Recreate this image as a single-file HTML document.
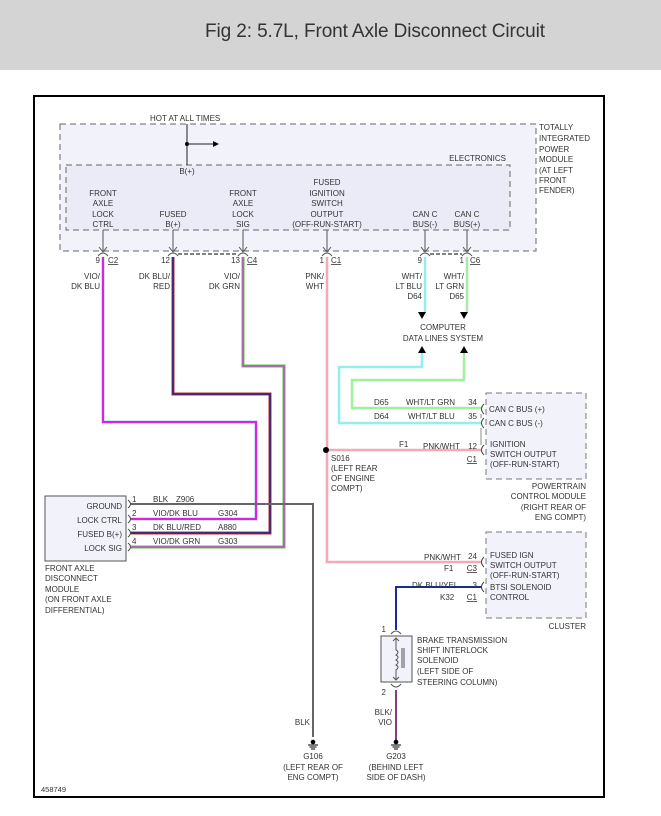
<!DOCTYPE html>
<html><head><meta charset="utf-8"><style>
html,body{margin:0;padding:0;background:#fff;}
svg{display:block;}
text{font-family:"Liberation Sans",sans-serif;font-size:8px;fill:#333;}
.t{font-size:19px;fill:#333;}
</style></head><body>
<svg width="661" height="816" viewBox="0 0 661 816" xmlns="http://www.w3.org/2000/svg">
<rect x="0" y="0" width="661" height="70" fill="#d4d4d4"/>
<text class="t" x="205" y="37" textLength="340">Fig 2: 5.7L, Front Axle Disconnect Circuit</text>
<rect x="34" y="96" width="570" height="701" fill="#fff" stroke="#000" stroke-width="2"/>

<!-- TIPM -->
<rect x="60" y="124" width="476" height="127" fill="#f2f2fb" stroke="#666" stroke-dasharray="6,4"/>
<rect x="66" y="165" width="444" height="65" fill="#ebebf8" stroke="#666" stroke-dasharray="6,4"/>
<text x="150" y="121">HOT AT ALL TIMES</text>
<line x1="187" y1="124" x2="187" y2="165" stroke="#222"/>
<circle cx="187" cy="144" r="2" fill="#000"/>
<line x1="187" y1="144" x2="214" y2="144" stroke="#222"/>
<polygon points="213,141 219,144 213,147" fill="#000"/>
<text x="506" y="161" text-anchor="end">ELECTRONICS</text>
<text x="187" y="174" text-anchor="middle">B(+)</text>
<g text-anchor="start">
<text x="539" y="130">TOTALLY</text><text x="539" y="141">INTEGRATED</text><text x="539" y="152">POWER</text><text x="539" y="162">MODULE</text><text x="539" y="173">(AT LEFT</text><text x="539" y="183">FRONT</text><text x="539" y="193">FENDER)</text>
</g>
<g text-anchor="middle">
<text x="103" y="196">FRONT</text><text x="103" y="206">AXLE</text><text x="103" y="217">LOCK</text><text x="103" y="227">CTRL</text>
<text x="173" y="217">FUSED</text><text x="173" y="227">B(+)</text>
<text x="243" y="196">FRONT</text><text x="243" y="206">AXLE</text><text x="243" y="217">LOCK</text><text x="243" y="227">SIG</text>
<text x="327" y="185">FUSED</text><text x="327" y="196">IGNITION</text><text x="327" y="206">SWITCH</text><text x="327" y="217">OUTPUT</text><text x="327" y="227">(OFF-RUN-START)</text>
<text x="425" y="217">CAN C</text><text x="425" y="227">BUS(-)</text>
<text x="467" y="217">CAN C</text><text x="467" y="227">BUS(+)</text>
</g>
<!-- pin arrows -->
<g stroke="#555" fill="none">
<path d="M103 230V252M99 247L103 252L107 247M98 256Q103 250 108 256"/>
<path d="M173 230V252M169 247L173 252L177 247M168 256Q173 250 178 256"/>
<path d="M243 230V252M239 247L243 252L247 247M238 256Q243 250 248 256"/>
<path d="M327 230V252M323 247L327 252L331 247M322 256Q327 250 332 256"/>
<path d="M425 230V252M421 247L425 252L429 247M420 256Q425 250 430 256"/>
<path d="M467 230V252M463 247L467 252L471 247M462 256Q467 250 472 256"/>
</g>
<line x1="178" y1="254" x2="238" y2="254" stroke="#000" stroke-dasharray="4,2"/>
<line x1="430" y1="254" x2="462" y2="254" stroke="#000" stroke-dasharray="4,2"/>
<g>
<text x="100" y="263" text-anchor="end">9</text><text x="108" y="263" text-decoration="underline">C2</text>
<text x="170" y="263" text-anchor="end">12</text>
<text x="240" y="263" text-anchor="end">13</text><text x="247" y="263" text-decoration="underline">C4</text>
<text x="324" y="263" text-anchor="end">1</text><text x="331" y="263" text-decoration="underline">C1</text>
<text x="422" y="263" text-anchor="end">9</text>
<text x="464" y="263" text-anchor="end">1</text><text x="470" y="263" text-decoration="underline">C6</text>
</g>
<g text-anchor="end">
<text x="100" y="279">VIO/</text><text x="100" y="289">DK BLU</text>
<text x="170" y="279">DK BLU/</text><text x="170" y="289">RED</text>
<text x="240" y="279">VIO/</text><text x="240" y="289">DK GRN</text>
<text x="324" y="279">PNK/</text><text x="324" y="289">WHT</text>
<text x="422" y="279">WHT/</text><text x="422" y="289">LT BLU</text><text x="422" y="299">D64</text>
<text x="464" y="279">WHT/</text><text x="464" y="289">LT GRN</text><text x="464" y="299">D65</text>
</g>

<!-- wires -->
<g fill="none" stroke-width="3">
<path d="M103 257V422H256V519H131" stroke="#a8c8f0"/>
<path d="M103 257V422H256V519H131" stroke="#e020e0" stroke-width="2"/>
<path d="M173 257V394H270V533H131" stroke="#c03040"/>
<path d="M173 257V394H270V533H131" stroke="#1a2a80" stroke-width="1.5"/>
<path d="M243 257V366H284V547H131" stroke="#60c060"/>
<path d="M243 257V366H284V547H131" stroke="#c050c0" stroke-width="1.5"/>
<path d="M131 504H313V737" stroke="#666" stroke-width="2"/>
<path d="M327 257V562H482" stroke="#f6a8b8" stroke-width="2.5"/>
<path d="M327 450H482" stroke="#f6a8b8" stroke-width="2.5"/>
<path d="M425 257V312" stroke="#90f0f0" stroke-width="2.5"/>
<path d="M467 257V312" stroke="#a8e8a8" stroke-width="2.5"/>
<path d="M422 353V367H339V423H482" stroke="#90f0f0" stroke-width="2.5"/>
<path d="M464 353V380H352V408H482" stroke="#a0f0a0" stroke-width="2.5"/>
<path d="M482 587H396V630" stroke="#1a2a90" stroke-width="2"/>
<path d="M396 690V740" stroke="#804080" stroke-width="2"/>
</g>
<circle cx="326" cy="450" r="3" fill="#000"/>
<polygon points="418,312 426,312 422,319" fill="#000"/>
<polygon points="460,312 468,312 464,319" fill="#000"/>
<polygon points="418,353 426,353 422,346" fill="#000"/>
<polygon points="460,353 468,353 464,346" fill="#000"/>
<text x="443" y="330" text-anchor="middle">COMPUTER</text>
<text x="443" y="341" text-anchor="middle">DATA LINES SYSTEM</text>

<!-- front axle module -->
<rect x="45" y="496" width="81" height="65" fill="#f2f2fb" stroke="#555"/>
<g text-anchor="end">
<text x="122" y="509">GROUND</text><text x="122" y="523">LOCK CTRL</text><text x="122" y="537">FUSED B(+)</text><text x="122" y="551">LOCK SIG</text>
</g>
<g stroke="#444" fill="none">
<path d="M128 500Q133 504 128 508M128 515Q133 519 128 523M128 529Q133 533 128 537M128 543Q133 547 128 551"/>
</g>
<text x="132" y="502">1</text><text x="132" y="516">2</text><text x="132" y="530">3</text><text x="132" y="544">4</text>
<text x="153" y="502">BLK</text><text x="176" y="502">Z906</text>
<text x="153" y="516">VIO/DK BLU</text><text x="218" y="516">G304</text>
<text x="153" y="530">DK BLU/RED</text><text x="218" y="530">A880</text>
<text x="153" y="544">VIO/DK GRN</text><text x="218" y="544">G303</text>
<text x="45" y="571">FRONT AXLE</text><text x="45" y="581">DISCONNECT</text><text x="45" y="592">MODULE</text><text x="45" y="602">(ON FRONT AXLE</text><text x="45" y="613">DIFFERENTIAL)</text>

<!-- PCM -->
<rect x="486" y="393" width="100" height="86" fill="#f2f2fb" stroke="#777" stroke-dasharray="6,4"/>
<g stroke="#444" fill="none"><path d="M484 404Q479 409 484 414M484 418Q479 423 484 428M484 445Q479 450 484 455"/><path d="M481 414V418M481 428V445" stroke="#888"/></g>
<text x="374" y="405">D65</text><text x="406" y="405">WHT/LT GRN</text><text x="477" y="405" text-anchor="end">34</text>
<text x="374" y="419">D64</text><text x="408" y="419">WHT/LT BLU</text><text x="477" y="419" text-anchor="end">35</text>
<text x="399" y="447">F1</text><text x="423" y="449">PNK/WHT</text><text x="477" y="449" text-anchor="end">12</text>
<text x="477" y="462" text-anchor="end" text-decoration="underline">C1</text>
<text x="489" y="412">CAN C BUS (+)</text><text x="489" y="426">CAN C BUS (-)</text>
<text x="490" y="447">IGNITION</text><text x="490" y="457">SWITCH OUTPUT</text><text x="490" y="467">(OFF-RUN-START)</text>
<g text-anchor="end"><text x="586" y="489">POWERTRAIN</text><text x="586" y="499">CONTROL MODULE</text><text x="586" y="510">(RIGHT REAR OF</text><text x="586" y="520">ENG COMPT)</text></g>
<text x="331" y="461">S016</text><text x="331" y="471">(LEFT REAR</text><text x="331" y="481">OF ENGINE</text><text x="331" y="491">COMPT)</text>

<!-- cluster -->
<rect x="486" y="532" width="100" height="86" fill="#f2f2fb" stroke="#777" stroke-dasharray="6,4"/>
<g stroke="#444" fill="none"><path d="M484 557Q479 562 484 567M484 582Q479 587 484 592"/></g>
<text x="424" y="560">PNK/WHT</text><text x="477" y="559" text-anchor="end">24</text>
<text x="444" y="571">F1</text><text x="477" y="571" text-anchor="end" text-decoration="underline">C3</text>
<text x="412" y="588">DK BLU/YEL</text><text x="477" y="588" text-anchor="end">3</text>
<text x="440" y="600">K32</text><text x="477" y="600" text-anchor="end" text-decoration="underline">C1</text>
<text x="490" y="558">FUSED IGN</text><text x="490" y="568">SWITCH OUTPUT</text><text x="490" y="578">(OFF-RUN-START)</text><text x="490" y="590">BTSI SOLENOID</text><text x="490" y="600">CONTROL</text>
<text x="586" y="629" text-anchor="end">CLUSTER</text>

<!-- solenoid -->
<rect x="381" y="636" width="31" height="46" fill="#f2f2fb" stroke="#555"/>
<g stroke="#555" fill="none">
<path d="M391 634Q396 628 401 634M391 684Q396 690 401 684"/>
<path d="M396 638V650Q400 652 396 655Q400 657 396 660Q400 662 396 665Q400 667 396 670V680M393 641L396 638L399 641M393 677L396 680L399 677"/>
<path d="M402 648V668M404 648V668"/>
</g>
<text x="386" y="632" text-anchor="end">1</text><text x="386" y="695" text-anchor="end">2</text>
<text x="417" y="643">BRAKE TRANSMISSION</text><text x="417" y="653">SHIFT INTERLOCK</text><text x="417" y="663">SOLENOID</text><text x="417" y="674">(LEFT SIDE OF</text><text x="417" y="685">STEERING COLUMN)</text>
<text x="392" y="715" text-anchor="end">BLK/</text><text x="392" y="725" text-anchor="end">VIO</text>
<text x="310" y="725" text-anchor="end">BLK</text>

<!-- grounds -->
<g stroke="#000" fill="none">
<path d="M308 745H318M309.5 747H316.5M311 749H315"/>
<path d="M391 745H401M392.5 747H399.5M394 749H398"/>
</g>
<circle cx="313" cy="742" r="2.3" fill="#000"/>
<circle cx="396" cy="742" r="2.3" fill="#000"/>
<g text-anchor="middle">
<text x="313" y="759">G106</text><text x="313" y="770">(LEFT REAR OF</text><text x="313" y="780">ENG COMPT)</text>
<text x="396" y="759">G203</text><text x="396" y="770">(BEHIND LEFT</text><text x="396" y="780">SIDE OF DASH)</text>
</g>
<text x="41" y="792" style="font-size:7.5px">458749</text>
</svg>
</body></html>
